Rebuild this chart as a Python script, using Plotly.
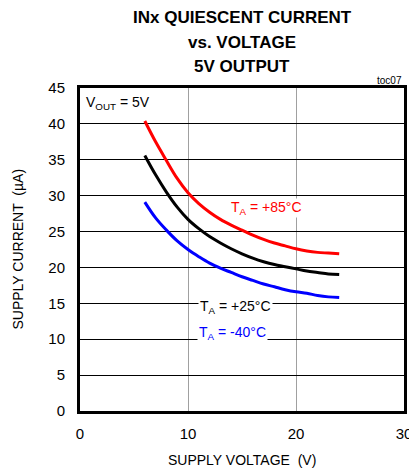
import plotly.graph_objects as go

# ---- data ----
supply_voltage = [6, 7, 8, 9, 10, 11, 12, 13, 14, 15, 16, 17, 18, 19, 20, 21, 22, 23, 24]
current_85c = [40.4, 37.5, 34.9, 32.4, 30.4, 28.9, 27.7, 26.7, 25.9, 25.2, 24.5, 23.9, 23.4, 23.0, 22.6, 22.3, 22.1, 22.0, 21.9]
current_25c = [35.6, 32.9, 30.5, 28.4, 26.7, 25.4, 24.3, 23.4, 22.6, 21.9, 21.3, 20.8, 20.4, 20.1, 19.8, 19.5, 19.3, 19.1, 19.0]
current_m40c = [29.1, 26.9, 25.2, 23.7, 22.5, 21.5, 20.6, 19.9, 19.3, 18.7, 18.2, 17.7, 17.3, 16.9, 16.6, 16.4, 16.1, 15.9, 15.8]
x_ticks = [0, 10, 20, 30]
y_ticks = [0, 5, 10, 15, 20, 25, 30, 35, 40, 45]
title_lines = ["INx QUIESCENT CURRENT", "vs. VOLTAGE", "5V OUTPUT"]

FONT = "Liberation Sans, Arial, sans-serif"

fig = go.Figure()
for y, c in [(current_85c, "#ff0000"), (current_25c, "#000000"), (current_m40c, "#0000ff")]:
    fig.add_trace(go.Scatter(x=supply_voltage, y=y, mode="lines",
                             line=dict(color=c, width=3, shape="spline", smoothing=1.0),
                             showlegend=False, hoverinfo="skip"))

PH = 323.0  # plot height in px
annotations = []
for t, yy in zip(title_lines, [18, 43, 67]):
    annotations.append(dict(text=f"<b>{t}</b>", xref="paper", yref="paper",
                            x=0.5, y=1 + (88 - yy) / PH, xanchor="center", yanchor="middle",
                            showarrow=False, font=dict(family=FONT, size=17, color="black")))
annotations.append(dict(text="toc07", xref="paper", yref="paper", x=1.0, y=1 + (88 - 81) / PH,
                        xanchor="right", yanchor="middle", showarrow=False,
                        font=dict(family=FONT, size=10, color="black")))
annotations.append(dict(text="V<sub>OUT</sub> = 5V", x=0.35, y=42.9, xanchor="left", yanchor="middle",
                        showarrow=False, font=dict(family=FONT, size=14, color="black")))
annotations.append(dict(text="T<sub>A</sub> = +85°C", x=17.3, y=28.3, showarrow=False,
                        font=dict(family=FONT, size=14, color="#ff0000"), bgcolor="white", borderpad=0))
annotations.append(dict(text="T<sub>A</sub> = +25°C", x=14.4, y=14.5, showarrow=False,
                        font=dict(family=FONT, size=14, color="black"), bgcolor="white", borderpad=1))
annotations.append(dict(text="T<sub>A</sub> = -40°C", x=14.1, y=10.9, showarrow=False,
                        font=dict(family=FONT, size=14, color="#0000ff"), bgcolor="white", borderpad=1))
annotations.append(dict(text="SUPPLY VOLTAGE  (V)", xref="paper", yref="paper", x=0.5, y=-(460 - 411) / PH,
                        xanchor="center", yanchor="middle", showarrow=False,
                        font=dict(family=FONT, size=14, color="black")))
annotations.append(dict(text="SUPPLY CURRENT  (µA)", xref="paper", yref="paper", x=-(80 - 17) / 324.0,
                        y=0.5, xanchor="center", yanchor="middle", textangle=-90, showarrow=False,
                        font=dict(family=FONT, size=14, color="black")))

fig.update_layout(
    width=409, height=469,
    margin=dict(l=80, r=5, t=88, b=58, autoexpand=False),
    paper_bgcolor="white", plot_bgcolor="white",
    font=dict(family=FONT, size=15, color="black"),
    annotations=annotations,
    xaxis=dict(range=[0, 30], tickvals=x_ticks, ticktext=[str(v) for v in x_ticks],
               showgrid=True, gridcolor="#a0a0a0", gridwidth=1,
               showline=True, linecolor="black", linewidth=3, mirror=True,
               ticks="outside", ticklen=7, tickcolor="rgba(0,0,0,0)", zeroline=False,
               ticklabeloverflow="allow"),
    yaxis=dict(range=[0, 45], tickvals=y_ticks, ticktext=[str(v) for v in y_ticks],
               showgrid=True, gridcolor="black", gridwidth=1,
               showline=True, linecolor="black", linewidth=3, mirror=True,
               ticks="outside", ticklen=9, tickcolor="rgba(0,0,0,0)", zeroline=False),
)

fig.write_html("out.html", config={"displayModeBar": False},
               post_script="document.body.style.margin='0';document.body.style.overflow='hidden';")
